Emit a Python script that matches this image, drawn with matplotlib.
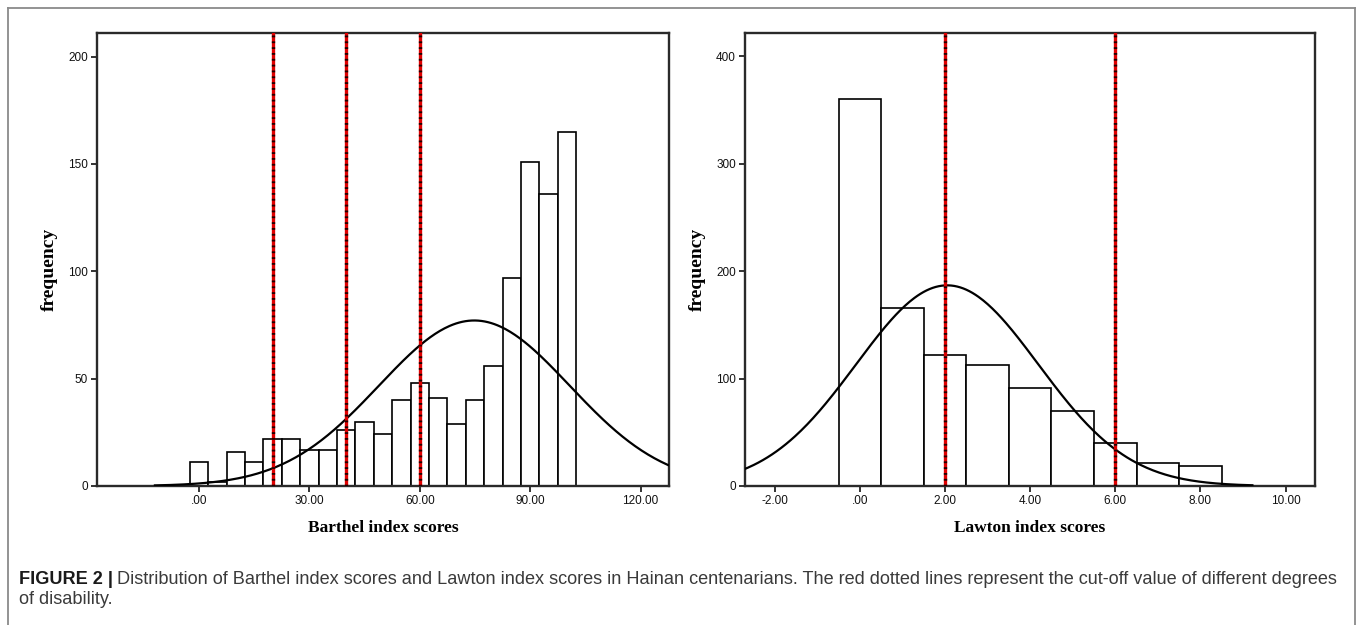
import matplotlib

matplotlib.use("Agg")
import matplotlib.pyplot as plt
import numpy as np
from matplotlib.lines import Line2D


W, H = 1362, 625

# Barthel index histogram (bins of width 5 centred on 0, 5, ..., 100)
barthel_centers = [0, 5, 10, 15, 20, 25, 30, 35, 40, 45, 50,
                   55, 60, 65, 70, 75, 80, 85, 90, 95, 100]
barthel_counts = [11, 2, 16, 11, 22, 22, 17, 17, 26, 30, 24,
                  40, 48, 41, 29, 40, 56, 97, 151, 136, 165]
barthel_width = 5
barthel_mean = 74.8
barthel_sd = 25.9
barthel_cutoffs = [20, 40, 60]
barthel_xticks = [0, 30, 60, 90, 120]
barthel_yticks = [0, 50, 100, 150, 200]

# Lawton index histogram (bins of width 1 centred on 0..8)
lawton_centers = [0, 1, 2, 3, 4, 5, 6, 7, 8]
lawton_counts = [360, 166, 122, 113, 91, 70, 40, 21, 19]
lawton_width = 1
lawton_mean = 2.05
lawton_sd = 2.14
lawton_cutoffs = [2, 6]
lawton_xticks = [-2, 0, 2, 4, 6, 8, 10]
lawton_yticks = [0, 100, 200, 300, 400]

CURVE_SPAN_SD = 3.35

caption_bold = "FIGURE 2 |"
caption_line1 = ("Distribution of Barthel index scores and Lawton index scores in Hainan "
                 "centenarians. The red dotted lines represent the cut-off value of different degrees")
caption_line2 = "of disability."

SERIF = ["Liberation Serif", "DejaVu Serif"]
SANS = ["Liberation Sans", "DejaVu Sans"]


def px_axes(fig, x0, y0, x1, y1):
    return fig.add_axes([x0 / W, 1 - y1 / H, (x1 - x0) / W, (y1 - y0) / H])


def spss_label(v):
    s = f"{v:.2f}"
    if s.startswith("0."):
        s = s[1:]
    return s


def draw_hist(ax, centers, counts, width, mean, sd, cutoffs, xlim, ylim,
              xticks, yticks, xlabel):
    ax.bar(centers, counts, width=width, color="white", edgecolor="black",
           linewidth=1.2, zorder=2)

    n = sum(counts)
    x = np.linspace(mean - CURVE_SPAN_SD * sd, mean + CURVE_SPAN_SD * sd, 400)
    y = n * width / (sd * np.sqrt(2 * np.pi)) * np.exp(-0.5 * ((x - mean) / sd) ** 2)
    ax.plot(x, y, color="black", linewidth=1.6, zorder=3)

    for c in cutoffs:
        ax.axvline(c, color="#e00000", linewidth=2.4, zorder=4)
        ax.axvline(c, color="#200000", linewidth=2.4, linestyle=(0, (0.55, 1.2)), zorder=5)

    ax.set_xlim(*xlim)
    ax.set_ylim(*ylim)
    ax.set_xticks(xticks)
    ax.set_xticklabels([spss_label(v) for v in xticks])
    ax.set_yticks(yticks)
    ax.set_yticklabels([str(v) for v in yticks])
    ax.tick_params(direction="out", length=4.5, width=1.2, labelsize=8.5, pad=2,
                   colors="#111111")
    for lbl in ax.get_xticklabels() + ax.get_yticklabels():
        lbl.set_family(SANS)
    for sp in ax.spines.values():
        sp.set_linewidth(1.7)
        sp.set_color("#2a2a2a")

    ax.set_xlabel(xlabel, family=SERIF, fontweight="bold", fontsize=12.5)
    ax.set_ylabel("frequency", family=SERIF, fontweight="bold", fontsize=14)
    ax.xaxis.set_label_coords(0.5, -0.074)
    ax.yaxis.set_label_coords(-0.068, 0.479)


def draw_caption(fig):
    x0 = 19
    y1 = 584
    y2 = 604
    right = 1336
    size = 11.0
    renderer = fig.canvas.get_renderer()
    for _ in range(3):
        tb = fig.text(x0 / W, 1 - y1 / H, caption_bold, family=SANS, fontweight="bold",
                      fontsize=size, color="#1a1a1a", va="baseline")
        bb = tb.get_window_extent(renderer)
        tr = fig.text(bb.x1 / W + 4 / W, 1 - y1 / H, caption_line1, family=SANS,
                      fontsize=size, color="#3a3a3a", va="baseline")
        br = tr.get_window_extent(renderer)
        total = br.x1 - x0
        if abs(total - (right - x0)) < 2:
            break
        tb.remove()
        tr.remove()
        size *= (right - x0) / total
    fig.text(x0 / W, 1 - y2 / H, caption_line2, family=SANS, fontsize=size,
             color="#3a3a3a", va="baseline")


def draw_border(fig):
    col = "#8a8a8a"
    pts = [((8, 640), (8, 8)), ((8, 8), (1355, 8)), ((1355, 8), (1355, 640))]
    for (xa, ya), (xb, yb) in pts:
        fig.add_artist(Line2D([xa / W, xb / W], [1 - ya / H, 1 - yb / H],
                              transform=fig.transFigure, color=col, linewidth=1.3))


def main():
    fig = plt.figure(figsize=(W / 100, H / 100), dpi=100)
    fig.patch.set_facecolor("white")

    ax1 = px_axes(fig, 97, 33, 669, 486)
    draw_hist(ax1, barthel_centers, barthel_counts, barthel_width, barthel_mean,
              barthel_sd, barthel_cutoffs, (-27.7, 127.7), (0, 211),
              barthel_xticks, barthel_yticks, "Barthel index scores")

    ax2 = px_axes(fig, 745, 33, 1315, 486)
    draw_hist(ax2, lawton_centers, lawton_counts, lawton_width, lawton_mean,
              lawton_sd, lawton_cutoffs, (-2.7, 10.69), (0, 421.7),
              lawton_xticks, lawton_yticks, "Lawton index scores")

    draw_border(fig)
    draw_caption(fig)
    fig.savefig("out.png", dpi=100, facecolor="white")
    plt.close(fig)


if __name__ == "__main__":
    main()
